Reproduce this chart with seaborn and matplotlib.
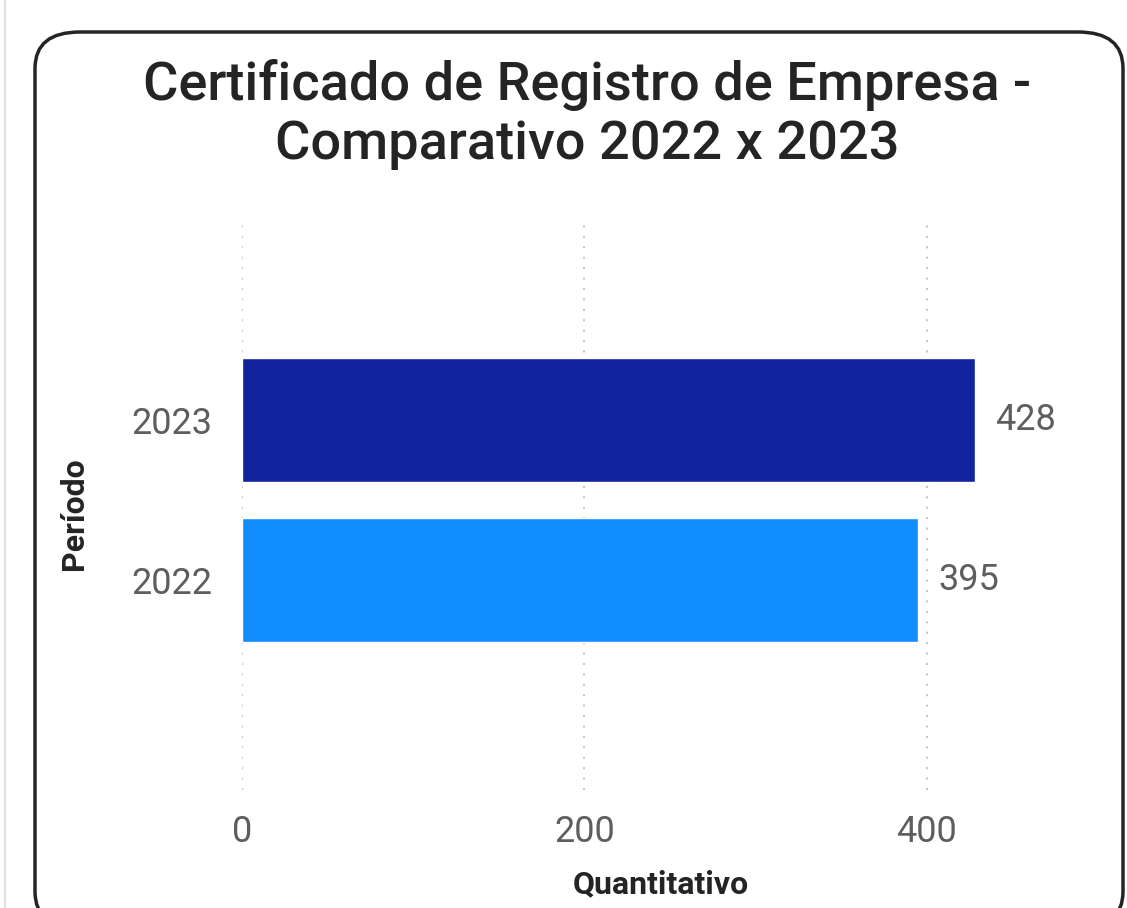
import matplotlib.pyplot as plt
import seaborn as sns
import pandas as pd
from matplotlib.patches import FancyBboxPatch

# dados
periodos = ["2023", "2022"]
quantidades = [428, 395]
cores = {"2023": "#12239E", "2022": "#118DFF"}
x_ticks = [0, 200, 400]

df = pd.DataFrame({"Período": periodos, "Quantitativo": quantidades})

sns.set_style("white")
plt.rcParams["font.family"] = ["Roboto", "DejaVu Sans"]

fig = plt.figure(figsize=(11.27, 9.08), dpi=100)
ax = fig.add_axes([0.2147, 0.13, 0.714, 0.622])

sns.barplot(data=df, x="Quantitativo", y="Período", hue="Período", order=periodos,
            palette=cores, orient="h", width=0.775, saturation=1, legend=False, ax=ax)

ax.set_xlim(0, 470)
ax.set_ylim(2.31, -1.22)
ax.set_xticks(x_ticks)
ax.xaxis.grid(True, linestyle=(0, (1, 4)), color="#C8C6C4", linewidth=1.5)
ax.set_axisbelow(True)
sns.despine(ax=ax, left=True, bottom=True, top=True, right=True)
ax.tick_params(axis="both", length=0, labelsize=26, labelcolor="#605E5C")
ax.tick_params(axis="x", pad=17)
ax.tick_params(axis="y", pad=21)

# rótulos de dados
for i, v in enumerate(quantidades):
    ax.text(v + 12, i, str(v), va="center", ha="left", fontsize=26, color="#605E5C")

ax.set_xlabel("Quantitativo", fontsize=23, fontweight="bold", color="#252423")
ax.set_ylabel("Período", fontsize=23, fontweight="bold", color="#252423")
ax.xaxis.set_label_coords(0.52, -0.14)
ax.yaxis.set_label_coords(-0.19, 0.49)

fig.text(0.521, 0.935, "Certificado de Registro de Empresa -\nComparativo 2022 x 2023",
         ha="center", va="top", fontsize=39, fontweight="medium", color="#252423",
         linespacing=1.2)

# moldura arredondada
borda = FancyBboxPatch((35 / 1127, -20 / 908), 1088 / 1127, 896 / 908,
                       boxstyle="round,pad=0,rounding_size=0.04",
                       transform=fig.transFigure, fill=False,
                       edgecolor="#252423", linewidth=2.5, clip_on=False)
fig.patches.append(borda)
fig.add_artist(plt.Line2D([5 / 1127, 5 / 1127], [0, 1], color="#E1E1E1", linewidth=1.5))

fig.savefig("out.png", dpi=100, facecolor="white")
